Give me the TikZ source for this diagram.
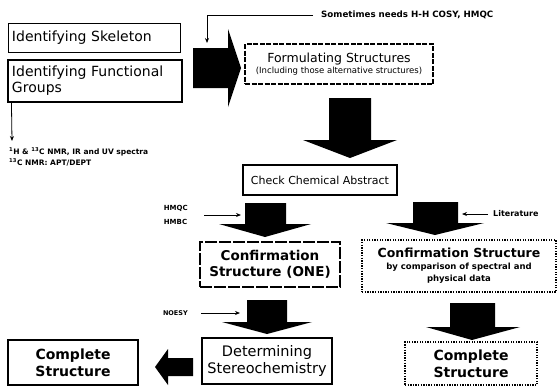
\documentclass[tikz,border=0pt]{standalone}
\usepackage{fontspec}
\setmainfont{DejaVu Sans}
\usetikzlibrary{arrows.meta}
\begin{document}
\begin{tikzpicture}[x=1pt,y=-1pt,
  box/.style={draw, line width=1.1pt, rectangle, inner sep=0pt, align=center},
  dbox/.style={box, dash pattern=on 5pt off 1.5pt},
  obox/.style={box, dash pattern=on 1.3pt off 1.3pt, line width=1.3pt},
  lbl/.style={inner sep=0pt},
  thinarr/.style={line width=0.8pt, -{Stealth[length=5pt,width=4pt]}},
  big/.style={fill=black}
]
\useasboundingbox (0,0) rectangle (559,386);

% boxes
\node[box, line width=0.9pt, minimum width=172pt, minimum height=29pt, text width=164pt, align=left,
      font=\fontsize{14}{16}\selectfont] (sk) at (94,37.5) {Identifying Skeleton};
\node[box, minimum width=174pt, minimum height=42pt, text width=166pt, align=left,
      font=\fontsize{14}{16}\selectfont] (fg) at (95,81) {Identifying Functional\\Groups};
\node[dbox, minimum width=188pt, minimum height=40pt] (fo) at (339,64)
  {\fontsize{12.5}{15}\selectfont Formulating Structures\\[-1pt]\fontsize{8.5}{10}\selectfont (Including those alternative structures)};
\node[box, minimum width=154pt, minimum height=30pt, font=\fontsize{11}{13}\selectfont] (ck) at (320,180) {Check Chemical Abstract};
\node[box, dash pattern=on 12pt off 2pt, line width=1.3pt, minimum width=140pt, minimum height=45pt,
      font=\bfseries\fontsize{13.5}{16}\selectfont] (c1) at (270,264.5) {Confirmation\\Structure (ONE)};
\node[obox, minimum width=194pt, minimum height=52pt, font=\bfseries] (c2) at (459,266)
  {\fontsize{12.5}{14}\selectfont Confirmation Structure\\\fontsize{8.5}{10}\selectfont by comparison of spectral and\\\fontsize{8.5}{10}\selectfont physical data};
\node[box, minimum width=130pt, minimum height=46pt, font=\fontsize{14.5}{17}\selectfont] (de) at (267,361) {Determining\\Stereochemistry};
\node[box, line width=1.3pt, minimum width=130pt, minimum height=45pt, font=\bfseries\fontsize{14}{17}\selectfont] (cl) at (73,362.5) {Complete\\Structure};
\node[obox, minimum width=132pt, minimum height=43pt, font=\bfseries\fontsize{14}{17}\selectfont] (cr) at (471,363.5) {Complete\\Structure};

% small labels
\node[lbl, anchor=west, font=\bfseries\fontsize{8.7}{10}\selectfont] (so) at (321,15) {Sometimes needs H-H COSY, HMQC};
\node[lbl, anchor=north west, align=left, font=\bfseries\fontsize{7.5}{11}\selectfont] (nmr) at (9,147)
  {\textsuperscript{1}H \& \textsuperscript{13}C NMR, IR and UV spectra\\\textsuperscript{13}C NMR: APT/DEPT};
\node[lbl, anchor=east, align=left, font=\bfseries\fontsize{7}{14}\selectfont] (hm) at (188,215) {HMQC\\HMBC};
\node[lbl, anchor=west, font=\bfseries\fontsize{8}{10}\selectfont] (lit) at (493,214) {Literature};
\node[lbl, anchor=east, font=\bfseries\fontsize{6.5}{8}\selectfont] (no) at (188,313) {NOESY};

% connector end points
\coordinate (fbend) at (207,43);
\coordinate (nmrend) at (12,141);
\coordinate (a2w) at (241,215);
\coordinate (a3e) at (462,214);
\coordinate (a4w) at (240,313);

% thin arrows
\draw[thinarr] ([xshift=-8pt]so.west) -| (fbend);
\draw[thinarr] ([xshift=4pt]fg.south west) -- (nmrend);
\draw[thinarr] ([xshift=16pt]hm.east) -- (a2w);
\draw[thinarr] ([xshift=-5pt]lit.west) -- (a3e);
\draw[thinarr] ([xshift=13pt]no.east) -- (a4w);

% big block arrows
\fill[big] (193,48) -- (228,48) -- (228,29) -- (241,68) -- (228,107) -- (228,88) -- (193,88) -- cycle;
\fill[big] (329,98) -- (371,98) -- (371,140) -- (397,140) -- (350,158) -- (303,140) -- (329,140) -- cycle;
\fill[big] (245,203) -- (286,203) -- (286,224) -- (311,224) -- (265,237) -- (219,224) -- (245,224) -- cycle;
\fill[big] (413,202) -- (458,202) -- (458,223) -- (484,223) -- (435,235) -- (386,223) -- (413,223) -- cycle;
\fill[big] (247,300) -- (287,300) -- (287,322) -- (312,322) -- (267,334) -- (222,322) -- (247,322) -- cycle;
\fill[big] (450,303) -- (495,303) -- (495,327) -- (520,327) -- (472,340) -- (426,327) -- (450,327) -- cycle;
\fill[big] (193,358) -- (168,358) -- (168,349) -- (155,367) -- (168,385) -- (168,376) -- (193,376) -- cycle;
\end{tikzpicture}
\end{document}
